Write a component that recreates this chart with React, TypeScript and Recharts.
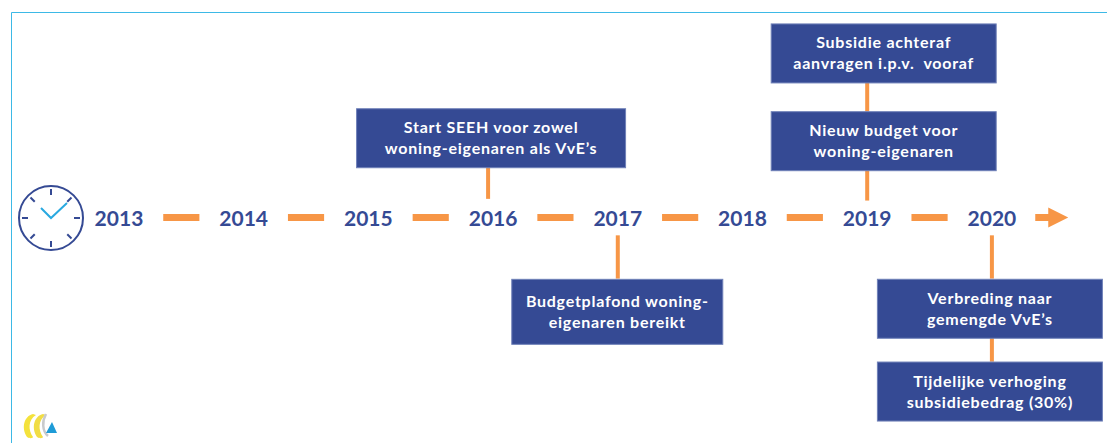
import { ScatterChart, Scatter, XAxis, YAxis, ReferenceLine } from 'recharts'

const WIDTH = 1107
const HEIGHT = 443
const NAVY = '#354A94'
const ORANGE = '#F79646'
const CYAN = '#3DB9E6'
const FONT = 'Lato, sans-serif'

const years = [2013, 2014, 2015, 2016, 2017, 2018, 2019, 2020]

// event year and height relative to the timeline (0), in box rows
const eventYears = [2016, 2017, 2019, 2019, 2020, 2020]
const eventLevels = [0.935, -1.112, 0.9, 1.935, -1.076, -2.052]
const eventTexts = [
  ['Start SEEH voor zowel', 'woning-eigenaren als VvE’s'],
  ['Budgetplafond woning-', 'eigenaren bereikt'],
  ['Nieuw budget voor', 'woning-eigenaren'],
  ['Subsidie achteraf', 'aanvragen i.p.v.  vooraf'],
  ['Verbreding naar', 'gemengde VvE’s'],
  ['Tijdelijke verhoging', 'subsidiebedrag (30%)'],
]

// stems: [x, from, to] on the same scales
const stems = [
  [2015.96, 0.22, 0.6],
  [2017, -0.21, -0.72],
  [2019, 0.2, 0.6],
  [2019, 1.25, 1.6],
  [2020, -0.21, -0.72],
  [2020, -1.4, -1.7],
]

const dashStarts = [2013.355, 2014.355, 2015.355, 2016.355, 2017.355, 2018.355, 2019.355]
const dashEnds = [2013.645, 2014.645, 2015.645, 2016.645, 2017.645, 2018.645, 2019.645]

const events = eventYears.map((year, i) => ({
  year,
  level: eventLevels[i],
  lines: eventTexts[i],
}))

// box width, height and x shift from the event year, per event
const boxW = [269, 211, 225, 225, 225, 225]
const boxH = [59, 65, 59, 59, 59, 59]
const boxDx = [-2, -0.5, 16.5, 16.5, -2, -2]

// eslint-disable-next-line @typescript-eslint/no-explicit-any
function EventBox(props: any) {
  const { cx, cy, index, payload } = props
  const w = boxW[index]
  const h = boxH[index]
  const mid = cx + boxDx[index]
  return (
    <g>
      <rect
        x={mid - w / 2}
        y={cy - h / 2}
        width={w}
        height={h}
        fill={NAVY}
        stroke="#6F80B8"
        strokeWidth={1}
      />
      {payload.lines.map((line: string, i: number) => (
        <text
          key={i}
          x={mid}
          y={cy - 5 + i * 21}
          textAnchor="middle"
          fill="#fff"
          fontFamily={FONT}
          fontWeight={700}
          fontSize={16}
          letterSpacing={0.75}
          xmlSpace="preserve"
        >
          {line}
        </text>
      ))}
    </g>
  )
}

// eslint-disable-next-line @typescript-eslint/no-explicit-any
function YearTick({ x, payload }: any) {
  return (
    <text
      x={x}
      y={226}
      textAnchor="middle"
      fill={NAVY}
      fontFamily={FONT}
      fontWeight={700}
      fontSize={21}
    >
      {payload.value}
    </text>
  )
}

// eslint-disable-next-line @typescript-eslint/no-explicit-any
function ArrowHead({ cx, cy }: any) {
  return <path d={`M${cx - 19} ${cy - 3.5} H${cx - 6} V${cy - 10} L${cx + 14} ${cy} L${cx - 6} ${cy + 10} V${cy + 3.5} H${cx - 19} Z`} fill={ORANGE} />
}

function Decor() {
  const ticks = [0, 45, 90, 135, 180, 225, 270, 315]
  return (
    <svg width={WIDTH} height={HEIGHT} style={{ position: 'absolute', left: 0, top: 0 }}>
      <path d="M11.5 443 V12.5 H1107" fill="none" stroke={CYAN} strokeWidth={1} />
      <circle cx={51} cy={218} r={32} fill="none" stroke={NAVY} strokeWidth={2} />
      {ticks.map((a) => (
        <line
          key={a}
          x1={51}
          y1={189}
          x2={51}
          y2={195}
          stroke={NAVY}
          strokeWidth={2}
          transform={`rotate(${a} 51 218)`}
        />
      ))}
      <path d="M41 208 L51 218 L67 203" fill="none" stroke="#29A9E0" strokeWidth={2} />
      <path d="M33 414 C24 416 21 428 27 437 C30 439 33 438 33 437 C28 430 28 420 36 415 Z" fill="#F4E23C" />
      <path d="M43 414 C34 416 31 428 37 437 C40 439 43 438 43 437 C38 430 38 420 46 415 Z" fill="#F1DD45" />
      <path d="M46 414 C42 421 42 431 48 436" fill="none" stroke="#C9CACC" strokeWidth={2.5} />
      <path d="M52 422 L57 433 L46 433 Z" fill="#1E9BD7" />
    </svg>
  )
}

export default function App() {
  return (
    <div style={{ position: 'absolute', left: 0, top: 0, width: WIDTH, height: HEIGHT, background: '#fff' }}>
      <Decor />
      <div style={{ position: 'absolute', left: 0, top: 0 }}>
        <ScatterChart width={WIDTH} height={HEIGHT} margin={{ top: 0, right: 0, bottom: 0, left: 0 }}>
          <XAxis
            type="number"
            dataKey="year"
            domain={[2012.046, 2020.923]}
            ticks={years}
            interval={0}
            height={1}
            axisLine={false}
            tickLine={false}
            tick={YearTick}
            allowDataOverflow
          />
          <YAxis type="number" dataKey="level" domain={[-2.647, 2.565]} hide allowDataOverflow />
          {dashStarts.map((start, i) => (
            <ReferenceLine
              key={start}
              segment={[
                { x: start, y: 0 },
                { x: dashEnds[i], y: 0 },
              ]}
              stroke={ORANGE}
              strokeWidth={7}
            />
          ))}
          {stems.map(([x, from, to], i) => (
            <ReferenceLine
              key={i}
              segment={[
                { x, y: from },
                { x, y: to },
              ]}
              stroke={ORANGE}
              strokeWidth={4}
            />
          ))}
          <Scatter data={[{ year: 2020.5, level: 0 }]} shape={ArrowHead} isAnimationActive={false} />
          <Scatter data={events} shape={EventBox} isAnimationActive={false} />
        </ScatterChart>
      </div>
    </div>
  )
}
